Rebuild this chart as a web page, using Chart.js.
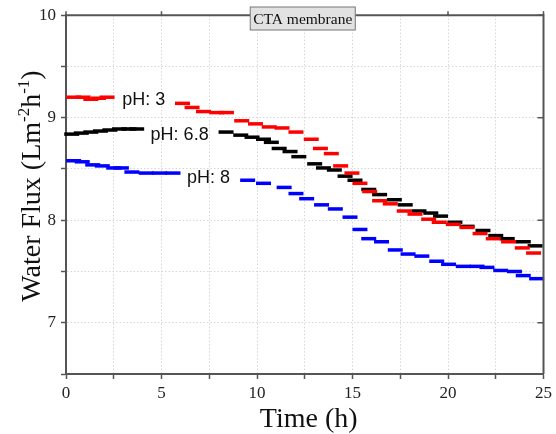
<!DOCTYPE html>
<html>
<head>
<meta charset="utf-8">
<script src="https://cdn.jsdelivr.net/npm/chart.js@4/dist/chart.umd.min.js"></script>
<style>
  html, body { margin: 0; padding: 0; background: #fff; }
  #wrap { width: 556px; height: 434px; }
</style>
</head>
<body>
<div id="wrap"><canvas id="flux" width="556" height="434"></canvas></div>
<script>
// DATA (time in h, water flux in L m-2 h-1)
const redTime = [0.4, 0.9, 1.3, 1.7, 2.15, 6.1, 6.6, 7.2, 7.9, 8.4, 9.2, 9.92, 10.64, 11.31, 12.04, 12.84, 13.32, 13.89, 14.38, 14.97, 15.39, 15.9, 16.42, 16.98, 17.71, 18.27, 18.99, 19.54, 20.28, 21.0, 21.68, 22.37, 23.17, 23.89, 24.48];
const redFlux = [9.20, 9.20, 9.18, 9.19, 9.20, 9.14, 9.10, 9.06, 9.05, 9.05, 8.97, 8.94, 8.91, 8.90, 8.86, 8.79, 8.70, 8.65, 8.53, 8.46, 8.36, 8.28, 8.19, 8.16, 8.09, 8.06, 8.01, 7.98, 7.96, 7.93, 7.87, 7.82, 7.79, 7.73, 7.68];

const blackTime = [0.3, 0.8, 1.3, 1.8, 2.3, 2.8, 3.3, 3.7, 8.38, 9.15, 9.74, 10.34, 10.75, 11.16, 11.73, 12.19, 13.02, 13.48, 14.05, 14.61, 15.13, 15.85, 16.42, 17.19, 17.76, 18.48, 19.1, 19.61, 20.36, 21.0, 21.83, 22.5, 23.1, 23.94, 24.56];
const blackFlux = [8.84, 8.85, 8.86, 8.87, 8.88, 8.89, 8.89, 8.89, 8.86, 8.83, 8.81, 8.79, 8.76, 8.70, 8.67, 8.62, 8.55, 8.51, 8.49, 8.43, 8.39, 8.30, 8.25, 8.20, 8.15, 8.09, 8.07, 8.04, 7.98, 7.94, 7.90, 7.85, 7.82, 7.79, 7.75];

const blueTime = [0.4, 0.85, 1.4, 1.9, 2.5, 2.9, 3.45, 4.2, 4.9, 5.6, 9.51, 10.34, 11.42, 12.04, 12.6, 13.38, 14.1, 14.87, 15.39, 15.85, 16.52, 17.24, 17.91, 18.63, 19.41, 20.03, 20.8, 21.52, 22.04, 22.76, 23.48, 23.94, 24.64];
const blueFlux = [8.58, 8.57, 8.54, 8.53, 8.51, 8.51, 8.47, 8.46, 8.46, 8.46, 8.39, 8.36, 8.32, 8.26, 8.21, 8.15, 8.11, 8.03, 7.91, 7.82, 7.79, 7.71, 7.67, 7.65, 7.60, 7.57, 7.55, 7.55, 7.54, 7.51, 7.50, 7.46, 7.43];

const seriesNames = ['pH: 3', 'pH: 6.8', 'pH: 8'];
const labelTime = [2.94, 4.43, 6.34];
const labelFlux = [9.17, 8.83, 8.41];

const xTicks = [0, 5, 10, 15, 20, 25];
const yTicks = [7, 8, 9, 10];

const toPoints = (xs, ys) => xs.map((x, i) => ({ x: x, y: ys[i] }));

const SERIF = '"Liberation Serif", "Times New Roman", serif';
const SANS = '"Liberation Sans", Arial, sans-serif';
const AXIS = '#555';

// frame, inner ticks, titles and in-plot labels
const decorations = {
  id: 'decorations',
  afterDraw(chart) {
    const { ctx, chartArea: a, scales: { x, y } } = chart;
    ctx.save();
    ctx.strokeStyle = AXIS;
    ctx.lineWidth = 2;
    ctx.beginPath();
    ctx.moveTo(a.left, a.top); ctx.lineTo(a.right, a.top); ctx.lineTo(a.right, a.bottom);
    ctx.stroke();
    ctx.lineWidth = 1.5;
    yTicks.forEach(v => {
      const py = y.getPixelForValue(v);
      ctx.beginPath(); ctx.moveTo(a.right, py); ctx.lineTo(a.right - 6, py); ctx.stroke();
    });
    xTicks.forEach(v => {
      const px = x.getPixelForValue(v);
      ctx.beginPath(); ctx.moveTo(px, a.top); ctx.lineTo(px, a.top - 4); ctx.stroke();
    });

    // series labels
    ctx.fillStyle = '#111';
    ctx.font = '18px ' + SANS;
    ctx.textBaseline = 'middle';
    ctx.textAlign = 'left';
    seriesNames.forEach((s, i) => {
      ctx.fillText(s, x.getPixelForValue(labelTime[i]), y.getPixelForValue(labelFlux[i]));
    });

    // title box
    ctx.font = '15.5px ' + SERIF;
    const t = 'CTA membrane';
    const tw = ctx.measureText(t).width;
    const cx = (a.left + a.right) / 2 - 2;
    const bw = tw + 6, bh = 23;
    ctx.fillStyle = '#e2e2e2';
    ctx.fillRect(cx - bw / 2, 7, bw, bh);
    ctx.strokeStyle = '#777';
    ctx.lineWidth = 1;
    ctx.strokeRect(cx - bw / 2, 7, bw, bh);
    ctx.fillStyle = '#111';
    ctx.textAlign = 'center';
    ctx.fillText(t, cx, 7 + bh / 2 + 1);

    // x title
    ctx.font = '28px ' + SERIF;
    ctx.textBaseline = 'alphabetic';
    ctx.fillText('Time (h)', (a.left + a.right) / 2 + 4, 427);

    // y title with superscripts
    const parts = [['Water Flux (Lm', 0], ['-2', 1], ['h', 0], ['-1', 1], [')', 0]];
    const big = '28px ' + SERIF, small = '17px ' + SERIF;
    let total = 0;
    parts.forEach(p => { ctx.font = p[1] ? small : big; total += ctx.measureText(p[0]).width; });
    ctx.translate(40, 186);
    ctx.rotate(-Math.PI / 2);
    ctx.textAlign = 'left';
    let px = -total / 2;
    parts.forEach(p => {
      ctx.font = p[1] ? small : big;
      ctx.fillText(p[0], px, p[1] ? -11 : 0);
      px += ctx.measureText(p[0]).width;
    });
    ctx.restore();
  }
};

const dash = (label, xs, ys, color) => ({
  label: label,
  data: toPoints(xs, ys),
  showLine: false,
  pointStyle: 'line',
  pointRadius: 7.5,
  pointHoverRadius: 7.5,
  borderColor: color,
  backgroundColor: color,
  borderWidth: 3.5,
  pointBorderWidth: 3.5,
  clip: false
});

new Chart(document.getElementById('flux'), {
  type: 'scatter',
  data: {
    datasets: [
      dash(seriesNames[0], redTime, redFlux, '#ff0000'),
      dash(seriesNames[1], blackTime, blackFlux, '#000000'),
      dash(seriesNames[2], blueTime, blueFlux, '#0000ff')
    ]
  },
  options: {
    responsive: false,
    animation: false,
    events: [],
    layout: { padding: { top: 15, right: 5, left: 0, bottom: 0 } },
    plugins: { legend: { display: false }, tooltip: { enabled: false } },
    scales: {
      x: {
        type: 'linear',
        min: 0, max: 25,
        afterFit: s => { s.height = 60; },
        ticks: {
          stepSize: 2.5,
          autoSkip: false,
          maxRotation: 0,
          padding: 4,
          color: '#222',
          font: { family: SERIF, size: 17 },
          callback: v => (v % 5 === 0 ? v : '')
        },
        grid: { color: '#d6d6d6', lineWidth: 1, tickLength: 5, tickColor: AXIS, tickWidth: 1.5 },
        border: { color: AXIS, width: 2, dash: [1.5, 2] }
      },
      y: {
        min: 6.5, max: 10,
        afterFit: s => { s.width = 66; },
        ticks: {
          stepSize: 0.5,
          autoSkip: false,
          padding: 5,
          color: '#222',
          font: { family: SERIF, size: 17 },
          callback: v => (Number.isInteger(v) ? v : '')
        },
        grid: { color: '#d6d6d6', lineWidth: 1, tickLength: 5, tickColor: AXIS, tickWidth: 1.5 },
        border: { color: AXIS, width: 2, dash: [1.5, 2] }
      }
    }
  },
  plugins: [decorations]
});
</script>
</body>
</html>
